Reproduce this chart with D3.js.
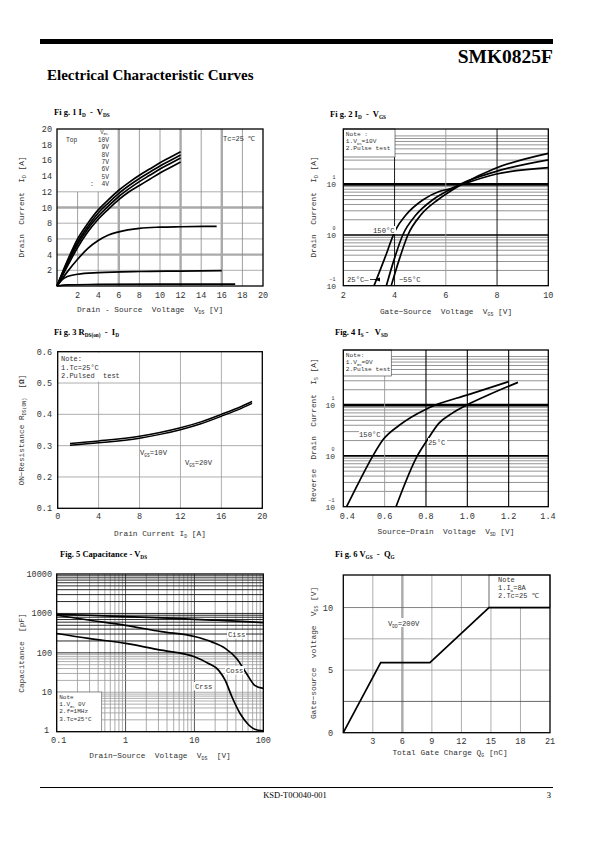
<!DOCTYPE html>
<html><head><meta charset="utf-8">
<script src="https://cdn.jsdelivr.net/npm/d3@7"></script>
<style>body{margin:0;background:#fff} text,tspan{white-space:pre}</style>
</head><body><svg id="c" width="595" height="842"></svg>
<script>
// ---------------- DATA ----------------
// Fig 1  ID - VDS
const fig1Vds = [0,1,2,3,4,5,6,7,8,9,10,11,12];
const fig1Id10V = [0,3.2,6.0,8.0,9.7,11.0,12.2,13.2,14.1,14.9,15.7,16.4,17.1];
const fig1Id9V  = [0,3.0,5.6,7.6,9.3,10.6,11.8,12.8,13.7,14.5,15.3,16.0,16.7];
const fig1Id8V  = [0,2.8,5.3,7.3,8.9,10.2,11.4,12.4,13.3,14.1,14.9,15.6,16.3];
const fig1Id7V  = [0,2.5,4.9,6.9,8.5,9.8,11.0,12.0,12.8,13.6,14.4,15.1,15.8];
const fig1Vds6V = [0,1,2,3,4,5,6,8,10,12,15.5];
const fig1Id6V  = [0,1.8,3.4,4.8,5.8,6.5,6.9,7.35,7.5,7.55,7.6];
const fig1Vds5V = [0,0.5,1,2,4,8,12,16];
const fig1Id5V  = [0,0.8,1.2,1.5,1.7,1.85,1.9,1.95];
const fig1Vds4V = [0,1,4,10,17.3];
const fig1Id4V  = [0,0.15,0.2,0.25,0.25];
const fig1Ticks = [2,4,6,8,10,12,14,16,18,20];
const fig1Legend = ["10V","9V","8V","7V","6V","5V",":  4V"];

// Fig 2  ID - VGS
const fig2Vgs150 = [3.2,3.6,4.04,4.45,5.1,5.74,6.13,6.65,7.94,10];
const fig2Id150  = [0.1,0.33,1.26,2.5,4.9,7.2,8.1,10,15.8,21.3];
const fig2Vgs25  = [3.68,4.0,4.32,4.84,5.48,6.13,6.5,7.94,10];
const fig2Id25   = [0.1,0.35,1.0,2.5,4.9,7.7,9.7,17.8,30.3];
const fig2VgsM55 = [3.87,4.2,4.52,5.03,5.68,6.19,6.58,7.94,10];
const fig2IdM55  = [0.1,0.35,1.0,2.5,4.9,7.4,9.7,20.7,40.8];
const fig2XTicks = [2,4,6,8,10];

// Fig 3  RDS(on) - ID
const fig3Id   = [1.2,4,8,10,12,14,16,18,19];
const fig3R10V = [0.307,0.315,0.330,0.342,0.357,0.376,0.400,0.426,0.441];
const fig3R20V = [0.301,0.309,0.324,0.336,0.351,0.370,0.394,0.420,0.435];
const fig3XTicks = [0,4,8,12,16,20];
const fig3YTicks = [0.1,0.2,0.3,0.4,0.5,0.6];

// Fig 4  IS - VSD
const fig4Vsd150 = [0.416,0.48,0.543,0.591,0.671,0.798,0.846,0.998,1.2];
const fig4Is150  = [0.1,0.33,1.0,2.05,4.0,8.2,10,15.7,28.8];
const fig4Vsd25  = [0.655,0.758,0.806,0.862,0.926,0.998,1.101,1.245];
const fig4Is25   = [0.1,1.0,2.05,4.36,6.85,10,15.7,27.9];
const fig4XTicks = [0.4,0.6,0.8,1.0,1.2,1.4];

// Fig 5  Capacitance - VDS
const fig5Vds  = [0.1,0.29,1,3.3,10,17.8,28,41,57,75,100];
const fig5Ciss = [950,900,830,770,710,680,660,640,620,600,585];
const fig5Coss = [900,680,500,345,260,190,130,72,30,15,12.5];
const fig5VdsCrss = [0.1,0.29,1,3.3,10,16,22.5,28,35,46,61,75,100];
const fig5Crss = [310,232,174,117,80,54,36,20,7.7,2.9,1.5,1.15,1.05];
const fig5XTicks = [0.1,1,10,100];
const fig5YTicks = [1,10,100,1000,10000];

// Fig 6  VGS - QG
const fig6Qg  = [0,3.8,8.8,14.8,21];
const fig6Vgs = [0,5.6,5.6,10,10];
const fig6XTicks = [3,6,9,12,15,18,21];
const fig6YTicks = [0,5,10];

// ---------------- HELPERS ----------------
const svg = d3.select("#c");
const MONO = "'Liberation Mono','DejaVu Sans Mono',monospace";
const SERIF = "'Liberation Serif','DejaVu Serif',serif";
const TXT = "#333";

function rich(g, x, y, parts, o = {}) {
  const size = o.size || 7.5;
  const t = g.append("text").attr("x", x).attr("y", y)
    .attr("font-family", o.family || MONO).attr("font-size", size)
    .attr("fill", o.fill || TXT).attr("text-anchor", o.anchor || "start")
    .attr("font-weight", o.weight || "normal");
  if (o.rotate) t.attr("transform", `rotate(-90,${x},${y})`);
  let cur = 0;
  parts.forEach(p => {
    const [s, k] = Array.isArray(p) ? p : [p, null];
    const ts = t.append("tspan").text(s);
    let target = 0;
    if (k === "sub") { ts.attr("font-size", size * 0.62); target = size * 0.25; }
    if (k === "sup") { ts.attr("font-size", size * 0.62); target = -size * 0.45; }
    if (k === "b") { ts.attr("font-weight", "bold"); }
    if (target !== cur) { ts.attr("dy", target - cur); cur = target; }
  });
  return t;
}
function line(g, x1, y1, x2, y2, stroke, w) {
  g.append("line").attr("x1", x1).attr("y1", y1).attr("x2", x2).attr("y2", y2)
    .attr("stroke", stroke).attr("stroke-width", w);
}
function frame(g, xs, ys) {
  const [a, b] = xs.range(), [c, d] = ys.range();
  g.append("rect").attr("x", a).attr("y", d).attr("width", b - a).attr("height", c - d)
    .attr("fill", "none").attr("stroke", "#000").attr("stroke-width", 1.3);
}
function curve(g, xs, ys, X, Y, w = 1.7) {
  const pts = X.map((x, i) => [x, Y[i]]);
  g.append("path").datum(pts)
    .attr("d", d3.line().x(d => xs(d[0])).y(d => ys(d[1])).curve(d3.curveMonotoneX))
    .attr("fill", "none").attr("stroke", "#000").attr("stroke-width", w).attr("stroke-linejoin", "round");
}
function poly(g, xs, ys, X, Y, w = 1.7) {
  const pts = X.map((x, i) => [x, Y[i]]);
  g.append("path").datum(pts)
    .attr("d", d3.line().x(d => xs(d[0])).y(d => ys(d[1])))
    .attr("fill", "none").attr("stroke", "#000").attr("stroke-width", w);
}
function noteBox(g, x, y, w, h, lines, size = 6.2, border = "#555") {
  g.append("rect").attr("x", x).attr("y", y).attr("width", w).attr("height", h)
    .attr("fill", "#fff").attr("stroke", border).attr("stroke-width", 0.7);
  lines.forEach((ln, i) => rich(g, x + 2.5, y + 7 + i * 7.2, ln, { size }));
}
function logLabel(g, x, y, exp) {
  rich(g, x, y + 3, ["10"], { size: 8, anchor: "end" });
  rich(g, x - 0.5, y - 5, [exp], { size: 5, anchor: "end" });
}
function title(g, x, y, parts) {
  rich(g, x, y, parts, { family: SERIF, size: 8.5, weight: "bold", fill: "#000" });
}
function logMinor(lo, hi) {
  const out = [];
  for (let d = lo; d < hi; d *= 10) for (let m = 1; m <= 9; m++) out.push(+(m * d).toPrecision(3));
  return out;
}

// ---------------- HEADER ----------------
svg.append("rect").attr("x", 40).attr("y", 39).attr("width", 513).attr("height", 5).attr("fill", "#000");
rich(svg, 553, 63, ["SMK0825F"], { family: SERIF, size: 19.5, weight: "bold", fill: "#000", anchor: "end" });
rich(svg, 47, 80, ["Electrical Characteristic Curves"], { family: SERIF, size: 15, weight: "bold", fill: "#000" });

// ---------------- FIG 1 ----------------
{
  const g = svg.append("g");
  const xs = d3.scaleLinear([0, 20], [57, 263]);
  const ys = d3.scaleLinear([0, 20], [286, 129]);
  title(g, 54, 115, ["Fi g. 1 I", ["D", "sub"], ["  -  V", null], ["DS", "sub"]]);
  [2,4,6,8,10,12].forEach(v => {
    const thick = v === 4 || v === 10;
    line(g, xs(0), ys(v), xs(20), ys(v), thick ? "#aaa" : "#999", thick ? 2.4 : 0.8);
  });
  [2,4,6,8,10,12,14,16,18].forEach(v => {
    const thick = v === 6 || v === 12 || v === 16;
    const top = (v <= 4) ? 12 : 20;
    line(g, xs(v), ys(0), xs(v), ys(top), thick ? "#aaa" : "#888", thick ? 2.4 : 0.8);
  });
  frame(g, xs, ys);
  curve(g, xs, ys, fig1Vds, fig1Id10V);
  curve(g, xs, ys, fig1Vds, fig1Id9V);
  curve(g, xs, ys, fig1Vds, fig1Id8V);
  curve(g, xs, ys, fig1Vds, fig1Id7V);
  curve(g, xs, ys, fig1Vds6V, fig1Id6V);
  curve(g, xs, ys, fig1Vds5V, fig1Id5V);
  curve(g, xs, ys, fig1Vds4V, fig1Id4V);
  fig1Ticks.forEach(v => {
    rich(g, xs(v), 298, [String(v)], { size: 8.5, anchor: "middle" });
    rich(g, 52, ys(v) + 3, [String(v)], { size: 8.5, anchor: "end" });
  });
  rich(g, 104, 134, ["V", ["GS", "sub"]], { size: 5.5, anchor: "middle" });
  rich(g, 66, 142, ["Top"], { size: 6.3 });
  fig1Legend.forEach((s, i) => rich(g, 109, 142 + i * 7.3, [s], { size: 6.3, anchor: "end" }));
  rich(g, 223, 141, ["Tc=25 ℃"], { size: 7 });
  rich(g, 24, 207, ["Drain  Current  I", ["D", "sub"], [" [A]", null]], { size: 7.8, anchor: "middle", rotate: true });
  rich(g, 150, 312, ["Drain - Source  Voltage  V", ["DS", "sub"], [" [V]", null]], { size: 7.8, anchor: "middle" });
}

// ---------------- FIG 2 ----------------
{
  const g = svg.append("g");
  const xs = d3.scaleLinear([2, 10], [343.3, 548.3]);
  const ys = d3.scaleLog([0.1, 100], [285.7, 133.6]);
  title(g, 330, 117, ["Fi g. 2 I", ["D", "sub"], ["  -  V", null], ["GS", "sub"]]);
  logMinor(0.1, 100).forEach(v => {
    if (v === 1 || v === 10 || v === 0.1) return;
    if (ys(v) < 129) return;
    line(g, xs(2), ys(v), xs(10), ys(v), "#666", 0.7);
  });
  line(g, xs(2), ys(1), xs(10), ys(1), "#000", 1.6);
  line(g, xs(2), ys(10), xs(10), ys(10), "#000", 2.8);
  line(g, xs(4), 129, xs(4), 285.7, "#000", 0.9);
  line(g, xs(6), 129, xs(6), 285.7, "#999", 0.9);
  line(g, xs(8), 129, xs(8), 285.7, "#000", 0.9);
  noteBox(g, 343.3, 129, 51.7, 28, [["Note :"], ["1.V", ["DS", "sub"], ["=10V", null]], ["2.Pulse test"]], 6.2);
  g.append("rect").attr("x", 343.3).attr("y", 129).attr("width", 205).attr("height", 156.7).attr("fill", "none").attr("stroke", "#000").attr("stroke-width", 1.3);
  curve(g, xs, ys, fig2Vgs150, fig2Id150);
  curve(g, xs, ys, fig2Vgs25, fig2Id25);
  curve(g, xs, ys, fig2VgsM55, fig2IdM55);
  fig2XTicks.forEach(v => rich(g, xs(v), 298, [String(v)], { size: 8.5, anchor: "middle" }));
  logLabel(g, 336, ys(10), "1");
  logLabel(g, 336, ys(1), "0");
  logLabel(g, 336, ys(0.1), "−1");
  g.append("rect").attr("x", 372).attr("y", 226).attr("width", 24).attr("height", 8).attr("fill", "#fff");
  rich(g, 373, 233, ["150°C"], { size: 7.2 });
  rich(g, 347, 282, ["25°C—"], { size: 7.2 });
  g.append("path").attr("d", "M374,279.5 L380,277.5 L380,281.5 Z").attr("fill", "#000");
  line(g, 370, 279.5, 378, 279.5, "#000", 0.8);
  rich(g, 399, 282, ["−55°C"], { size: 7.2 });
  rich(g, 316, 207, ["Drain  Current  I", ["D", "sub"], [" [A]", null]], { size: 7.8, anchor: "middle", rotate: true });
  rich(g, 446, 314, ["Gate−Source  Voltage  V", ["GS", "sub"], [" [V]", null]], { size: 7.8, anchor: "middle" });
}

// ---------------- FIG 3 ----------------
{
  const g = svg.append("g");
  const xs = d3.scaleLinear([0, 20], [57.7, 262.3]);
  const ys = d3.scaleLinear([0.1, 0.6], [508.3, 351.7]);
  title(g, 54, 335, ["Fi g. 3 R", ["DS(on)", "sub"], ["  -  I", null], ["D", "sub"]]);
  [4, 8, 12, 16].forEach(v => line(g, xs(v), ys(0.1), xs(v), ys(0.6), "#999", 0.8));
  [0.2, 0.3, 0.4, 0.5].forEach(v => line(g, xs(0), ys(v), xs(20), ys(v), "#999", 0.8));
  g.append("rect").attr("x", 58.5).attr("y", 352.5).attr("width", 71).attr("height", 29).attr("fill", "#fff");
  rich(g, 61, 361, ["Note:"], { size: 7 });
  rich(g, 61, 369.5, ["1.Tc=25°C"], { size: 7 });
  rich(g, 61, 378, ["2.Pulsed  test"], { size: 7 });
  frame(g, xs, ys);
  curve(g, xs, ys, fig3Id, fig3R10V, 1.5);
  curve(g, xs, ys, fig3Id, fig3R20V, 1.5);
  fig3XTicks.forEach(v => rich(g, xs(v), 519, [String(v)], { size: 8.5, anchor: "middle" }));
  fig3YTicks.forEach(v => rich(g, 52, ys(v) + 3, [v.toFixed(1)], { size: 8.5, anchor: "end" }));
  rich(g, 140, 455, ["V", ["GS", "sub"], ["=10V", null]], { size: 7.2 });
  rich(g, 185, 465, ["V", ["GS", "sub"], ["=20V", null]], { size: 7.2 });
  rich(g, 24, 430, ["ON−Resistance R", ["DS(ON)", "sub"], ["  [", null], ["Ω", "b"], ["]", null]], { size: 7.8, anchor: "middle", rotate: true });
  rich(g, 160, 536, ["Drain Current I", ["D", "sub"], [" [A]", null]], { size: 7.8, anchor: "middle" });
}

// ---------------- FIG 4 ----------------
{
  const g = svg.append("g");
  const xs = d3.scaleLinear([0.4, 1.4], [343.3, 550]);
  const ys = d3.scaleLog([0.1, 100], [506.7, 354.2]);
  title(g, 335, 335, ["Fig. 4 I", ["S", "sub"], [" -   V", null], ["SD", "sub"]]);
  logMinor(0.1, 100).forEach(v => {
    if (v === 1 || v === 10 || v === 0.1) return;
    if (ys(v) < 350) return;
    line(g, 343.3, ys(v), 548.3, ys(v), "#666", 0.7);
  });
  line(g, 343.3, ys(1), 548.3, ys(1), "#000", 1.6);
  line(g, 343.3, ys(10), 548.3, ys(10), "#000", 2.8);
  line(g, xs(0.6), 350, xs(0.6), 506.7, "#999", 0.9);
  [0.8, 1.0, 1.2].forEach(v => line(g, xs(v), 350, xs(v), 506.7, "#000", 1.1));
  noteBox(g, 343.3, 350, 48, 26, [["Note:"], ["1.V", ["GS", "sub"], ["=0V", null]], ["2.Pulse test"]], 6.2);
  g.append("rect").attr("x", 343.3).attr("y", 350).attr("width", 205).attr("height", 156.7).attr("fill", "none").attr("stroke", "#000").attr("stroke-width", 1.3);
  curve(g, xs, ys, fig4Vsd150, fig4Is150);
  curve(g, xs, ys, fig4Vsd25, fig4Is25);
  fig4XTicks.forEach(v => rich(g, xs(v) + (v === 0.4 ? 4 : 0) - (v === 1.4 ? 2 : 0), 519, [v.toFixed(1)], { size: 8.5, anchor: "middle" }));
  logLabel(g, 335, ys(10), "1");
  logLabel(g, 335, ys(1), "0");
  logLabel(g, 335, ys(0.1), "−1");
  g.append("rect").attr("x", 359).attr("y", 430).attr("width", 24).attr("height", 8).attr("fill", "#fff");
  rich(g, 359, 437, ["150°C"], { size: 7.2 });
  g.append("rect").attr("x", 428).attr("y", 438).attr("width", 19).attr("height", 8).attr("fill", "#fff");
  rich(g, 428, 445, ["25°C"], { size: 7.2 });
  rich(g, 316, 430, ["Reverse  Drain  Current  I", ["S", "sub"], [" [A]", null]], { size: 7.8, anchor: "middle", rotate: true });
  rich(g, 446, 534, ["Source−Drain  Voltage  V", ["SD", "sub"], [" [V]", null]], { size: 7.8, anchor: "middle" });
}

// ---------------- FIG 5 ----------------
{
  const g = svg.append("g");
  const xs = d3.scaleLog([0.1, 100], [56.7, 263.3]);
  const ys = d3.scaleLog([1, 10000], [731.7, 574]);
  title(g, 60, 557, ["Fig. 5 Capacitance - V", ["DS", "sub"]]);
  logMinor(0.1, 100).forEach(v => {
    if (v === 0.1) return;
    const major = (v === 1 || v === 10);
    line(g, xs(v), 574, xs(v), 731.7, major ? "#555" : "#888", major ? 1 : 0.7);
  });
  logMinor(1, 10000).forEach(v => {
    if (v === 1) return;
    const dark = v >= 100;
    line(g, 56.7, ys(v), 263.3, ys(v), dark ? "#111" : "#999", dark ? 0.9 : 0.8);
  });
  noteBox(g, 56.7, 692, 45, 39.7, [["Note"], ["1.V", ["GS", "sub"], [" 0V", null]], ["2.f=1MHz"], ["3.Tc=25°C"]], 6, "#666");
  frame(g, xs, ys);
  curve(g, xs, ys, fig5Vds, fig5Ciss);
  curve(g, xs, ys, fig5Vds, fig5Coss);
  curve(g, xs, ys, fig5VdsCrss, fig5Crss);
  fig5XTicks.forEach(v => rich(g, xs(v) + (v === 0.1 ? 2 : 0), 743, [String(v)], { size: 8.5, anchor: "middle" }));
  fig5YTicks.forEach(v => rich(g, v === 1 ? 49 : 52, ys(v) + (v === 1 ? 1 : 3), [String(v)], { size: 8.5, anchor: "end" }));
  [["Ciss", 228, 637], ["Coss", 226, 673], ["Crss", 195, 689]].forEach(([s, x, y]) => {
    g.append("rect").attr("x", x - 1).attr("y", y - 7).attr("width", 19).attr("height", 8.5).attr("fill", "#fff");
    rich(g, x, y, [s], { size: 7.2 });
  });
  rich(g, 24, 653, ["Capacitance  [pF]"], { size: 7.8, anchor: "middle", rotate: true });
  rich(g, 160, 758, ["Drain−Source  Voltage  V", ["DS", "sub"], ["  [V]", null]], { size: 7.8, anchor: "middle" });
}

// ---------------- FIG 6 ----------------
{
  const g = svg.append("g");
  const xs = d3.scaleLinear([0, 21], [343.3, 550]);
  const ys = d3.scaleLinear([0, 12.6], [732.7, 575]);
  title(g, 335, 557, ["Fi g. 6 V", ["GS", "sub"], ["  -  Q", null], ["G", "sub"]]);
  [3, 9, 12, 15, 18].forEach(v => line(g, xs(v), ys(0), xs(v), ys(12.6), "#999", 0.8));
  line(g, xs(6), ys(0), xs(6), ys(12.6), "#aaa", 2.4);
  [[2.5, "#444"], [5, "#999"], [7.5, "#999"], [10, "#666"]].forEach(([v, c]) => line(g, xs(0), ys(v), xs(21), ys(v), c, 0.8));
  g.append("rect").attr("x", 489).attr("y", 575).attr("width", 61).attr("height", 32.3).attr("fill", "#fff").attr("stroke", "#444").attr("stroke-width", 0.8);
  rich(g, 498, 582, ["Note"], { size: 7 });
  rich(g, 498, 590, ["1.I", ["D", "sub"], ["=8A", null]], { size: 7 });
  rich(g, 498, 598, ["2.Tc=25 ℃"], { size: 7 });
  frame(g, xs, ys);
  poly(g, xs, ys, fig6Qg, fig6Vgs);
  fig6XTicks.forEach(v => rich(g, xs(v), 744, [String(v)], { size: 8.5, anchor: "middle" }));
  fig6YTicks.forEach(v => rich(g, 333, ys(v) + 3, [String(v)], { size: 8.5, anchor: "end" }));
  g.append("rect").attr("x", 387).attr("y", 618).attr("width", 42).attr("height", 9).attr("fill", "#fff");
  rich(g, 388, 626, ["V", ["DD", "sub"], ["=200V", null]], { size: 7.2 });
  rich(g, 316, 653, ["Gate−source  voltage  V", ["GS", "sub"], [" [V]", null]], { size: 7.8, anchor: "middle", rotate: true });
  rich(g, 450, 755, ["Total Gate Charge Q", ["G", "sub"], [" [nC]", null]], { size: 7.8, anchor: "middle" });
}

// ---------------- FOOTER ----------------
line(svg, 40, 787.5, 553, 787.5, "#000", 1);
rich(svg, 295, 798, ["KSD-T0O040-001"], { family: SERIF, size: 8.5, fill: "#000", anchor: "middle" });
rich(svg, 551, 798, ["3"], { family: SERIF, size: 8.5, fill: "#000", anchor: "end" });
</script></body></html>
